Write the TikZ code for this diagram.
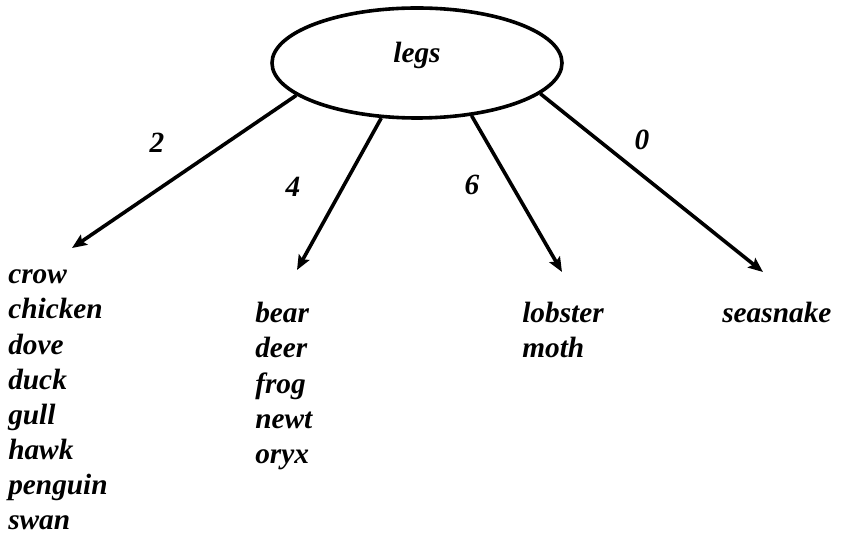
\documentclass[tikz,border=0pt]{standalone}
\usepackage{fontspec}
\setmainfont{Liberation Serif}
\usetikzlibrary{arrows.meta,shapes.geometric}
\begin{document}
\begin{tikzpicture}[x=0.75pt,y=-0.75pt,
  every node/.style={font=\fontsize{22}{26}\selectfont\bfseries\itshape},
  rootbox/.style={ellipse, draw, line width=2.7pt, minimum width=217.5pt, minimum height=82.5pt, inner sep=0pt},
  branch/.style={line width=2.7pt, -{Stealth[length=11pt,width=9pt,inset=2pt]}},
  item/.style={anchor=base west, inner sep=0pt},
  val/.style={anchor=center, inner sep=0pt}]
\useasboundingbox (0,0) rectangle (841,548);
\node[rootbox] (legs) at (417,63) {\raisebox{0pt}[0pt][0pt]{legs}};
\coordinate (e1) at (72,248);
\coordinate (e2) at (297,270);
\coordinate (e3) at (562,272);
\coordinate (e4) at (763,272);
\draw[branch] (legs.195) -- (e1);
\draw[branch] (legs.237) -- (e2);
\draw[branch] (legs.316) -- (e3);
\draw[branch] (legs.346) -- (e4);
\node[val] (l2) at (157,143) {2};
\node[val] (l4) at (293,187) {4};
\node[val] (l6) at (472,185) {6};
\node[val] (l0) at (642,140) {0};
% column 1
\node[item] (crow) at (8,284) {crow};
\node[item] (chicken) at (8,319) {chicken};
\node[item] (dove) at (8,354) {dove};
\node[item] (duck) at (8,389) {duck};
\node[item] (gull) at (8,424) {gull};
\node[item] (hawk) at (8,459) {hawk};
\node[item] (penguin) at (8,494) {penguin};
\node[item] (swan) at (8,529) {swan};
% column 2
\node[item] (bear) at (255,323) {bear};
\node[item] (deer) at (255,358) {deer};
\node[item] (frog) at (255,393) {frog};
\node[item] (newt) at (255,428) {newt};
\node[item] (oryx) at (255,463) {oryx};
% column 3
\node[item] (lobster) at (522,323) {lobster};
\node[item] (moth) at (522,358) {moth};
% column 4
\node[item] (seasnake) at (722,323) {seasnake};
\end{tikzpicture}
\end{document}
